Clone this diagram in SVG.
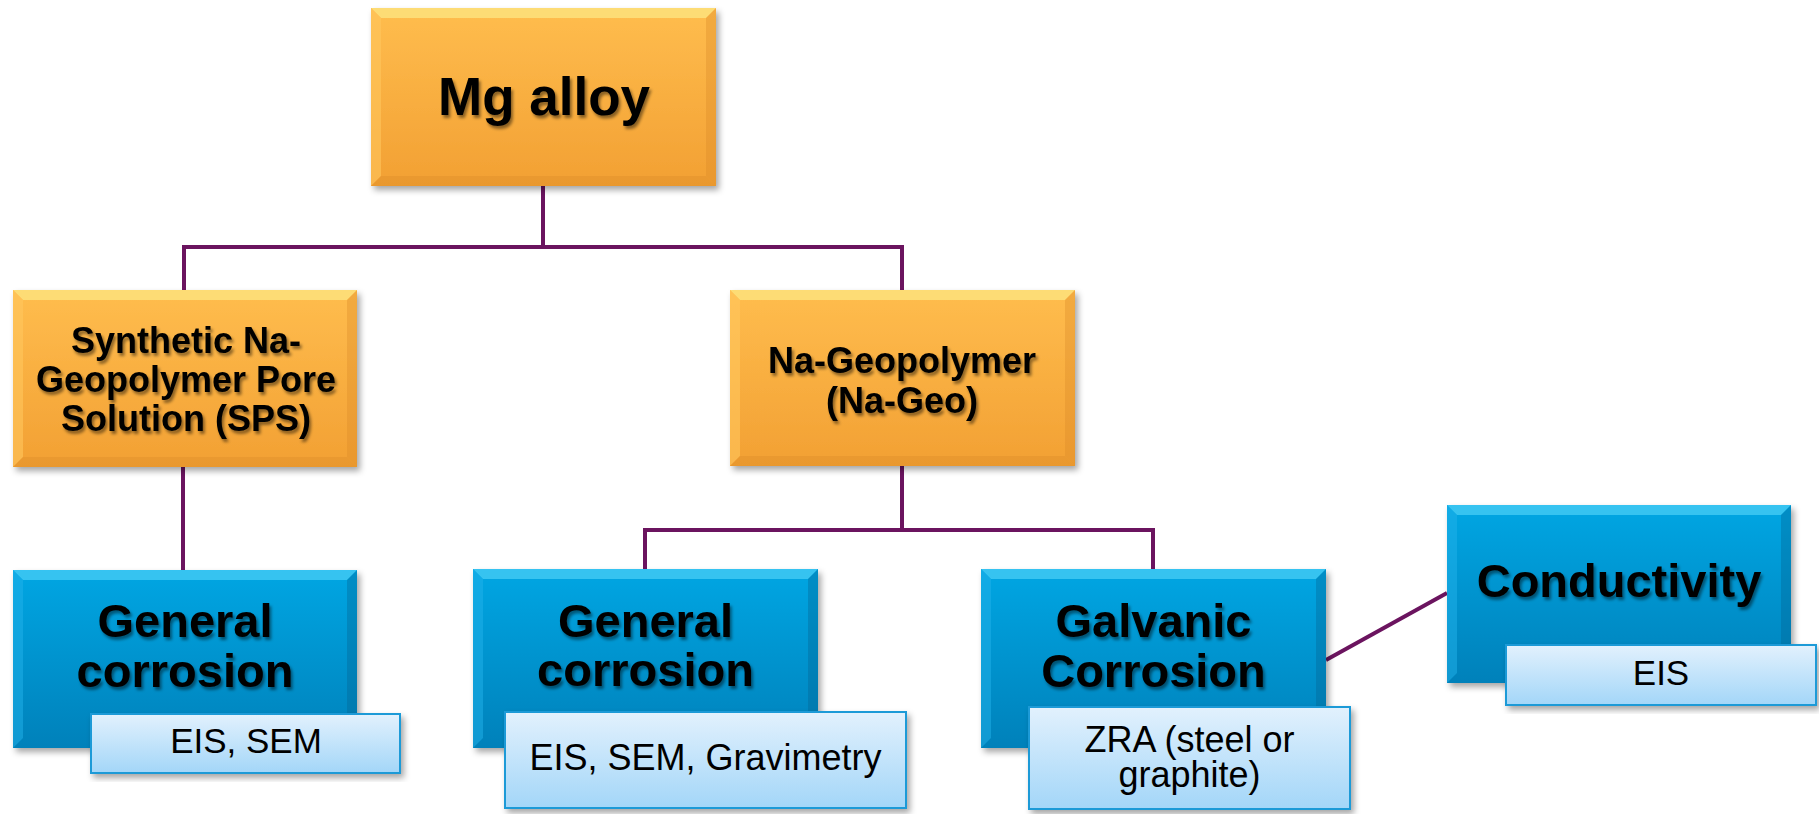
<svg xmlns="http://www.w3.org/2000/svg" width="1819" height="814" viewBox="0 0 1819 814">
<defs>
<linearGradient id="gOr" x1="0" y1="0" x2="0" y2="1">
<stop offset="0" stop-color="#FFBD4E"/>
<stop offset="1" stop-color="#F2A033"/>
</linearGradient>
<linearGradient id="gBl" x1="0" y1="0" x2="0" y2="1">
<stop offset="0" stop-color="#06A6E3"/>
<stop offset="1" stop-color="#0481BA"/>
</linearGradient>
<linearGradient id="gSub" x1="0" y1="0" x2="0" y2="1">
<stop offset="0" stop-color="#E2F1FD"/>
<stop offset="1" stop-color="#A3D6F8"/>
</linearGradient>
<filter id="boxSh" x="-10%" y="-10%" width="125%" height="125%">
<feDropShadow dx="3" dy="4" stdDeviation="3" flood-color="#000" flood-opacity="0.35"/>
</filter>
<filter id="txtSh" x="-10%" y="-20%" width="125%" height="150%">
<feDropShadow dx="2" dy="3" stdDeviation="1.5" flood-color="#000" flood-opacity="0.45"/>
</filter>
</defs>
<style>
.or{fill:url(#gOr);}
.bl{fill:url(#gBl);}
.sub{fill:url(#gSub);stroke:#1B9AD7;stroke-width:2;}
.bevT-or{fill:#FDE27C;opacity:0.85;}
.bevL-or{fill:#FFC75E;opacity:0.6;}
.bevR-or{fill:#D98A28;opacity:0.35;}
.bevT-bl{fill:#3CC6F2;opacity:0.9;}
.bevL-bl{fill:#22B2EA;opacity:0.5;}
.bevR-bl{fill:#03628F;opacity:0.35;}
.t{font-family:"Liberation Sans",Arial,sans-serif;font-weight:bold;fill:#000;text-anchor:middle;}
.s{font-family:"Liberation Sans",Arial,sans-serif;fill:#000;text-anchor:middle;}
.con{fill:none;stroke:#6B145F;stroke-width:4;}
</style>
<rect width="1819" height="814" fill="#fff"/>

<g id="connectors">
<path class="con" d="M543 186 V247 M184 290 V247 H902 V290"/>
<path class="con" d="M183 467 V570"/>
<path class="con" d="M902 466 V530 M645 569 V530 H1153 V569"/>
<path class="con" d="M1326 660 L1447 593"/>
</g>

<g id="mg">
<rect class="or" x="371" y="8" width="345" height="178" filter="url(#boxSh)"/>
<polygon class="bevT-or" points="371,8 716,8 706,18 381,18"/>
<polygon class="bevL-or" points="371,8 381,18 381,176 371,186"/>
<polygon class="bevR-or" points="716,8 716,186 706,176 706,18"/>
<polygon class="bevR-or" points="371,186 716,186 706,176 381,176"/>
<text class="t" x="544" y="115" font-size="53" filter="url(#txtSh)">Mg alloy</text>
</g>

<g id="sps">
<rect class="or" x="13" y="290" width="344" height="177" filter="url(#boxSh)"/>
<polygon class="bevT-or" points="13,290 357,290 347,300 23,300"/>
<polygon class="bevL-or" points="13,290 23,300 23,457 13,467"/>
<polygon class="bevR-or" points="357,290 357,467 347,457 347,300"/>
<polygon class="bevR-or" points="13,467 357,467 347,457 23,457"/>
<g filter="url(#txtSh)">
<text class="t" x="186" y="353" font-size="36">Synthetic Na-</text>
<text class="t" x="186" y="392" font-size="36">Geopolymer Pore</text>
<text class="t" x="186" y="431" font-size="36">Solution (SPS)</text>
</g>
</g>

<g id="nageo">
<rect class="or" x="730" y="290" width="345" height="176" filter="url(#boxSh)"/>
<polygon class="bevT-or" points="730,290 1075,290 1065,300 740,300"/>
<polygon class="bevL-or" points="730,290 740,300 740,456 730,466"/>
<polygon class="bevR-or" points="1075,290 1075,466 1065,456 1065,300"/>
<polygon class="bevR-or" points="730,466 1075,466 1065,456 740,456"/>
<g filter="url(#txtSh)">
<text class="t" x="902" y="373" font-size="36">Na-Geopolymer</text>
<text class="t" x="902" y="413" font-size="36">(Na-Geo)</text>
</g>
</g>

<g id="gc1">
<rect class="bl" x="13" y="570" width="344" height="178" filter="url(#boxSh)"/>
<polygon class="bevT-bl" points="13,570 357,570 347,580 23,580"/>
<polygon class="bevL-bl" points="13,570 23,580 23,738 13,748"/>
<polygon class="bevR-bl" points="357,570 357,748 347,738 347,580"/>
<g filter="url(#txtSh)">
<text class="t" x="185" y="637" font-size="47">General</text>
<text class="t" x="185" y="687" font-size="47">corrosion</text>
</g>
</g>

<g id="gc1-methods">
<rect class="sub" x="91" y="714" width="309" height="59" filter="url(#boxSh)"/>
<text class="s" x="246" y="753" font-size="35">EIS, SEM</text>
</g>

<g id="gc2">
<rect class="bl" x="473" y="569" width="345" height="179" filter="url(#boxSh)"/>
<polygon class="bevT-bl" points="473,569 818,569 808,579 483,579"/>
<polygon class="bevL-bl" points="473,569 483,579 483,738 473,748"/>
<polygon class="bevR-bl" points="818,569 818,748 808,738 808,579"/>
<g filter="url(#txtSh)">
<text class="t" x="645.5" y="637" font-size="47">General</text>
<text class="t" x="645.5" y="686" font-size="47">corrosion</text>
</g>
</g>

<g id="gc2-methods">
<rect class="sub" x="505" y="712" width="401" height="96" filter="url(#boxSh)"/>
<text class="s" x="705.5" y="770" font-size="36">EIS, SEM, Gravimetry</text>
</g>

<g id="galv">
<rect class="bl" x="981" y="569" width="345" height="179" filter="url(#boxSh)"/>
<polygon class="bevT-bl" points="981,569 1326,569 1316,579 991,579"/>
<polygon class="bevL-bl" points="981,569 991,579 991,738 981,748"/>
<polygon class="bevR-bl" points="1326,569 1326,748 1316,738 1316,579"/>
<g filter="url(#txtSh)">
<text class="t" x="1153.5" y="637" font-size="47">Galvanic</text>
<text class="t" x="1153.5" y="687" font-size="47">Corrosion</text>
</g>
</g>

<g id="galv-methods">
<rect class="sub" x="1029" y="707" width="321" height="102" filter="url(#boxSh)"/>
<text class="s" x="1189.5" y="752" font-size="36">ZRA (steel or</text>
<text class="s" x="1189.5" y="787" font-size="36">graphite)</text>
</g>

<g id="cond">
<rect class="bl" x="1447" y="505" width="344" height="178" filter="url(#boxSh)"/>
<polygon class="bevT-bl" points="1447,505 1791,505 1781,515 1457,515"/>
<polygon class="bevL-bl" points="1447,505 1457,515 1457,673 1447,683"/>
<polygon class="bevR-bl" points="1791,505 1791,683 1781,673 1781,515"/>
<text class="t" x="1619" y="597" font-size="47" filter="url(#txtSh)">Conductivity</text>
</g>

<g id="cond-methods">
<rect class="sub" x="1506" y="645" width="310" height="60" filter="url(#boxSh)"/>
<text class="s" x="1661" y="685" font-size="35">EIS</text>
</g>
</svg>
